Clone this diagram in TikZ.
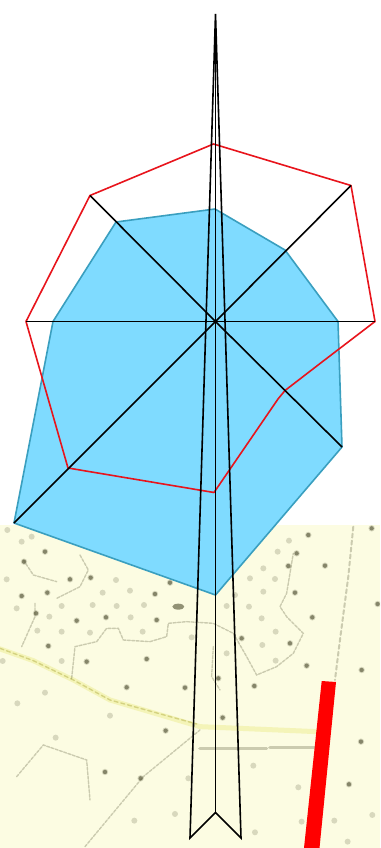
\documentclass[tikz,border=0pt]{standalone}
\usepackage{xcolor}
\usetikzlibrary{calc}
\definecolor{mapbg}{HTML}{FCFCE2}
\definecolor{mapink}{HTML}{5A5A3C}
\definecolor{roadyellow}{HTML}{F4F4B8}
\definecolor{zonefill}{HTML}{7FDBFF}
\definecolor{zoneedge}{HTML}{3A9FBF}
\definecolor{rayred}{HTML}{E8141C}
\definecolor{barred}{HTML}{FF0000}
\tikzset{
  zone/.style={fill=zonefill, draw=zoneedge, line width=1.6pt, line join=round},
  rayline/.style={draw=black, line width=1.6pt},
  needle/.style={draw=black, line width=1.6pt, line join=miter},
  outline/.style={draw=rayred, line width=1.6pt, line join=round},
  mapline/.style={draw=mapink, opacity=0.3, line width=1.4pt, dash pattern=on 3pt off 1.5pt, line cap=round},
  bigdot/.style={fill=mapink, opacity=0.65},
  smalldot/.style={fill=mapink, opacity=0.22},
}

\begin{document}
\begin{tikzpicture}[x=1pt,y=-1pt]
  \useasboundingbox (0,0) rectangle (380,848);
  \fill[white] (0,0) rectangle (380,848);

  % map sheet
  \fill[mapbg] (0,525) rectangle (380,848);
  \begin{scope}
    \clip (0,525) rectangle (380,848);
    \begin{scope}[shift={(0,500)}, x=0.3333pt, y=-0.3333pt]
      % road
      \draw[roadyellow, line width=5pt, line cap=round]
        (-5,445) -- (100,482) -- (220,540) -- (330,600) -- (600,680) -- (950,695);
      \draw[mapline, draw=olive, dash pattern=on 4pt off 3pt] (0,445) -- (100,482) -- (220,540) -- (330,600) -- (590,672);
      % plot boundaries
      \draw[mapline] (240,165) -- (265,210) -- (240,260) -- (170,295);
      \draw[mapline] (70,180) -- (100,225) -- (170,245);
      \draw[mapline] (105,310) -- (105,350) -- (65,440);
      \draw[mapline] (215,535) -- (225,440) -- (290,425) -- (320,385) -- (355,385)
        -- (370,420) -- (450,425) -- (500,410) -- (505,370) -- (560,365) -- (640,370)
        -- (700,400) -- (740,470) -- (770,525) -- (830,500) -- (880,460) -- (910,400)
        -- (860,350) -- (840,320) -- (860,280) -- (880,160);
      \draw[mapline] (640,440) -- (635,530) -- (660,570);
      \draw[mapline] (255,1040) -- (430,830) -- (600,690);
      \draw[mapline] (50,830) -- (130,735) -- (260,780) -- (270,900);
      \draw[mapline, line width=2pt, dash pattern=on 4pt off 3pt] (1060,80) -- (1045,230) -- (1020,420) -- (1005,540);
      \draw[mapline, line width=3.6pt, dash pattern=on 1.5pt off 1pt] (600,745) -- (800,745);
      \draw[mapline, line width=3.6pt, dash pattern=on 2.5pt off 0.8pt] (810,742) -- (945,742);
      % dots
      \foreach \x/\y in {135/155, 72/185, 210/238, 272/233, 142/278, 65/288, 465/282, 510/248,
          925/105, 890/160, 865/198, 975/197, 885/278, 937/352, 920/497, 1085/510, 1133/312,
          1115/85, 870/430, 470/360, 318/352, 230/362, 108/340, 145/438, 260/485, 440/477,
          380/562, 555/563, 763/558, 668/653, 497/692, 315/816, 422/835, 1047/853, 1083/725,
          725/415, 655/535} {
        \fill[smalldot] (\x,\y) circle (3.2pt);
        \fill[bigdot] (\x,\y) circle (2.2pt);
      }
      \fill[bigdot] (535,320) ellipse (6pt and 3pt);
      \foreach \x/\y in {148/350, 185/395, 112/392, 185/318, 278/315, 350/318, 432/315, 392/352,
          348/240, 390/272, 308/278, 270/398, 428/395, 185/483, 8/483, 20/238, 50/325, 95/110,
          65/125, 22/90, 575/412, 680/318, 747/320, 785/355, 827/395, 787/435, 680/460, 827/482,
          750/235, 825/237, 790/275, 705/285, 790/205, 833/155, 867/122, 330/647, 135/578,
          52/610, 167/713, 525/942, 403/962, 760/797, 895/862, 1003/962, 1117/945, 765/997,
          1043/1025, 565/835, 905/965} {
        \fill[smalldot] (\x,\y) circle (3pt);
      }
    \end{scope}
  \end{scope}

  \coordinate (hub) at (215.5,321.5);

  % blue zone
  \draw[zone] (14,523) -- (215.5,595) -- (342,447) -- (338,321.5) -- (285,250)
    -- (215,209) -- (116,222) -- (53,321.5) -- cycle;

  % red outline
  \coordinate (redn) at (213.5,144);
  \coordinate (redne) at (351,185.5);
  \coordinate (rede) at (375,321.5);
  \coordinate (redse) at (285,390.5);
  \coordinate (reds) at (214,492.5);
  \coordinate (redsw) at (68,468);
  \coordinate (redw) at (26,321.5);
  \coordinate (rednw) at (90,195.5);
  \draw[outline] (redn) -- (redne) -- (rede) -- (322,362) -- (redse) -- (278,399)
    -- (reds) -- (redsw) -- (redw) -- (rednw) -- cycle;

  % rays out of the hub
  \coordinate (rayse) at (342,447);
  \coordinate (raysw) at (14,523);
  \foreach \tip in {redne, rayse, raysw, rednw} {
    \draw[rayline] (hub) -- (\tip);
  }
  \draw[rayline, line width=1.8pt] (redw) -- (rede);

  % long arrow
  \coordinate (tip) at (215.5,14);
  \coordinate (tailleft) at (190,838);
  \coordinate (notch) at (215.5,812.5);
  \coordinate (tailright) at (241,838);
  \draw[needle] (tip) -- (tailleft) -- (notch) -- (tailright) -- cycle;
  \draw[needle] (tip) -- (notch);

  % red bar on the map
  \fill[barred] (321.7,681) -- (336,682) -- (319.5,848) -- (304,848) -- cycle;
\end{tikzpicture}
\end{document}
